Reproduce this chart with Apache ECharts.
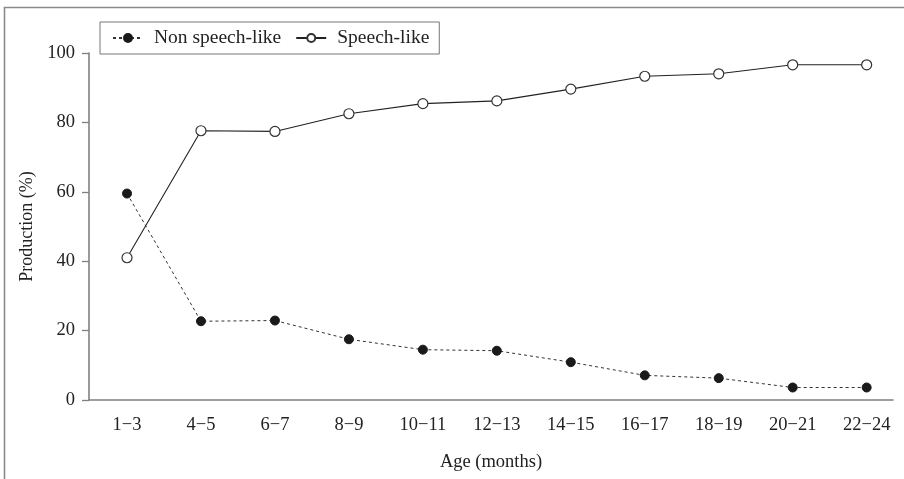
<!DOCTYPE html>
<html>
<head>
<meta charset="utf-8">
<script src="https://cdn.jsdelivr.net/npm/echarts@6/dist/echarts.min.js"></script>
<style>html,body{margin:0;padding:0;background:#fff}#c{width:904px;height:479px}</style>
</head>
<body>
<div id="c"></div>
<script>
const categories = ['1\u22123','4\u22125','6\u22127','8\u22129','10\u221211','12\u221213','14\u221215','16\u221217','18\u221219','20\u221221','22\u221224'];
const nonSpeechLike = [59.5, 22.7, 22.9, 17.5, 14.5, 14.2, 10.9, 7.1, 6.3, 3.6, 3.6];
const speechLike = [41.0, 77.6, 77.4, 82.5, 85.4, 86.2, 89.6, 93.3, 94.0, 96.6, 96.6];
const yTicks = [0, 20, 40, 60, 80, 100];

const FONT = '"Liberation Serif", "DejaVu Serif", serif';
const chart = echarts.init(document.getElementById('c'), null, {renderer: 'canvas'});
chart.setOption({
  animation: false,
  backgroundColor: '#fff',
  textStyle: {fontFamily: FONT},
  graphic: [{
    type: 'polyline',
    shape: {points: [[4.5, 479], [4.5, 7.5], [904, 7.5]]},
    style: {stroke: '#8a8a8a', lineWidth: 1.6, fill: null},
    silent: true
  }],
  legend: {
    left: 100, top: 22,
    padding: [6, 10, 6, 12],
    borderColor: '#777', borderWidth: 1,
    itemWidth: 30, itemHeight: 10, itemGap: 14,
    textStyle: {fontFamily: FONT, fontSize: 19.5, color: '#222', padding: [0, 0, 0, 6]},
    data: ['Non speech-like', 'Speech-like']
  },
  grid: {left: 89, right: 11, top: 53, bottom: 79, containLabel: false},
  xAxis: {
    type: 'value',
    min: -0.514, max: 10.356,
    interval: 1,
    name: 'Age (months)', nameLocation: 'middle', nameGap: 53,
    nameTextStyle: {fontFamily: FONT, fontSize: 18.5, color: '#222'},
    axisLine: {lineStyle: {color: '#808080', width: 1.6}},
    axisTick: {show: false},
    splitLine: {show: false},
    axisLabel: {
      fontFamily: FONT, fontSize: 18.5, color: '#222', margin: 16,
      showMinLabel: true, showMaxLabel: true,
      customValues: categories.map((c, i) => i),
      formatter: v => (Number.isInteger(v) && categories[v] !== undefined) ? categories[v] : ''
    }
  },
  yAxis: {
    type: 'value', min: 0, max: 100, interval: 20,
    name: 'Production (%)', nameLocation: 'middle', nameGap: 47,
    nameTextStyle: {fontFamily: FONT, fontSize: 18, color: '#222'},
    axisLine: {show: true, onZero: false, lineStyle: {color: '#808080', width: 1.6}},
    axisTick: {show: true, length: 7, lineStyle: {color: '#808080', width: 1.3}},
    splitLine: {show: false},
    axisLabel: {fontFamily: FONT, fontSize: 18.5, color: '#222', margin: 14,
      formatter: v => yTicks.includes(v) ? String(v) : ''}
  },
  series: [{
    name: 'Non speech-like', type: 'line',
    data: nonSpeechLike.map((v, i) => [i, v]),
    symbol: 'circle', symbolSize: 9,
    itemStyle: {color: '#1a1a1a', borderColor: '#1a1a1a', borderWidth: 1},
    lineStyle: {color: '#333', width: 1, type: [3, 3]}
  }, {
    name: 'Speech-like', type: 'line',
    data: speechLike.map((v, i) => [i, v]),
    symbol: 'circle', symbolSize: 10,
    itemStyle: {color: '#fff', borderColor: '#333', borderWidth: 1.2},
    lineStyle: {color: '#222', width: 1.1, type: 'solid'}
  }]
});
</script>
</body>
</html>
